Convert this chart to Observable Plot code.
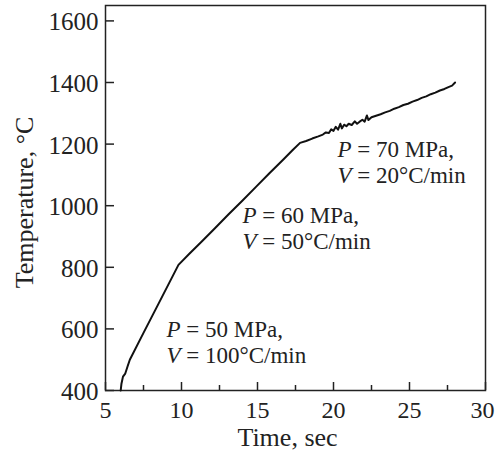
<!DOCTYPE html>
<html>
<head>
<meta charset="utf-8">
<script src="https://cdn.jsdelivr.net/npm/d3@7"></script>
<script src="https://cdn.jsdelivr.net/npm/@observablehq/plot@0.6"></script>
<style>
  html, body { margin: 0; padding: 0; background: #fff; }
  #chart svg { display: block; }
</style>
</head>
<body>
<div id="chart"></div>
<script>
// Time (sec) and temperature (°C)
const timeSec = [
  6.0, 6.05, 6.15, 6.3, 6.45, 6.6, 7.5, 8.5, 9.8,
  10.5, 11.3, 12.2, 13.1, 14.0, 14.9, 15.8, 16.7, 17.3, 17.8,
  18.2, 18.6, 19.0, 19.3, 19.5, 19.7, 19.85, 20.0, 20.15, 20.3, 20.45, 20.55,
  20.7, 20.85, 21.0, 21.2, 21.4, 21.55, 21.7, 21.9, 22.05, 22.2, 22.3, 22.5,
  22.8, 23.1, 23.4, 23.7, 24.0, 24.3, 24.6, 24.9, 25.2, 25.5, 25.8, 26.1,
  26.4, 26.7, 27.0, 27.3, 27.6, 27.8, 28.0
];
const tempC = [
  400, 422, 445, 455, 478, 500, 587, 683, 808,
  843, 882, 927, 972, 1016, 1061, 1106, 1150, 1180, 1204,
  1210, 1218, 1225, 1231, 1238, 1236, 1248, 1243, 1256, 1247, 1266, 1251,
  1263, 1258, 1266, 1262, 1274, 1266, 1272, 1279, 1273, 1293, 1278, 1287,
  1292, 1297, 1303, 1308, 1315, 1320, 1327, 1331, 1338, 1343, 1350, 1355,
  1362, 1367, 1374, 1379, 1386, 1390, 1400
];

// Axis ticks
const xTicks = [5, 10, 15, 20, 25, 30];
const xMinorTicks = [7.5, 12.5, 17.5, 22.5, 27.5];
const yTicks = [400, 600, 800, 1000, 1200, 1400, 1600];

// Annotations
const annText = ["P = 50 MPa,\nV = 100°C/min", "P = 60 MPa,\nV = 50°C/min", "P = 70 MPa,\nV = 20°C/min"];
const annX = [9.01, 14.01, 20.26];
const annY = [488, 858, 1075];

const xLabel = "Time, sec";
const yLabel = "Temperature, °C";

const curve = timeSec.map((t, i) => ({t, T: tempC[i]}));
const ann = annText.map((s, i) => ({s, x: annX[i], y: annY[i]}));

const W = 496, H = 455, mL = 105, mR = 11, mT = 5, mB = 65;
const plotH = H - mT - mB, plotW = W - mL - mR;
const ink = "#222";
const font = "'Liberation Serif', 'Times New Roman', serif";

const chart = Plot.plot({
  width: W, height: H,
  marginLeft: mL, marginRight: mR, marginTop: mT, marginBottom: mB,
  style: {fontFamily: font, color: ink, background: "#fff"},
  x: {domain: [5, 30]},
  y: {domain: [400, 1650]},
  marks: [
    Plot.axisX({ticks: xTicks, tickSize: 0, tickPadding: 10, fontSize: 24, label: null, tickFormat: d => String(d), fill: ink}),
    Plot.axisY({ticks: yTicks, tickSize: 0, tickPadding: 7, fontSize: 25, label: null, tickFormat: d => String(d), fill: ink, dy: 1.5}),
    Plot.tickX(xTicks, {x: d => d, insetTop: plotH - 8, stroke: ink, strokeWidth: 1.5}),
    Plot.tickX(xMinorTicks, {x: d => d, insetTop: plotH - 5, stroke: ink, strokeWidth: 1.5}),
    Plot.tickY(yTicks, {y: d => d, insetRight: plotW - 9, stroke: ink, strokeWidth: 1.5}),
    Plot.frame({stroke: ink, strokeWidth: 1.5}),
    Plot.line(curve, {x: "t", y: "T", stroke: "#111", strokeWidth: 2, strokeLinejoin: "round"}),
    Plot.text(ann, {x: "x", y: "y", text: "s", textAnchor: "start", lineAnchor: "bottom", lineHeight: 1.13, fontSize: 23, fill: ink}),
    Plot.text([xLabel], {frameAnchor: "bottom", textAnchor: "middle", dx: -8, dy: 55, lineAnchor: "bottom", fontSize: 26, fill: ink}),
    Plot.text([yLabel], {frameAnchor: "left", textAnchor: "middle", dx: -73, dy: 4.5, rotate: -90, lineAnchor: "bottom", fontSize: 26, fill: ink})
  ]
});

// italicize the P and V symbols in annotations
d3.select(chart).selectAll("tspan").each(function() {
  const el = d3.select(this);
  const txt = el.text();
  if (!/^[PV] = /.test(txt)) return;
  el.text(null);
  el.append("tspan").attr("font-style", "italic").text(txt.charAt(0));
  el.append("tspan").text(txt.slice(1));
});

// keep the last x tick label inside the window
d3.select(chart).selectAll("text").filter(function() { return d3.select(this).text() === "30"; })
  .attr("dx", -3);

document.getElementById("chart").appendChild(chart);
</script>
</body>
</html>
